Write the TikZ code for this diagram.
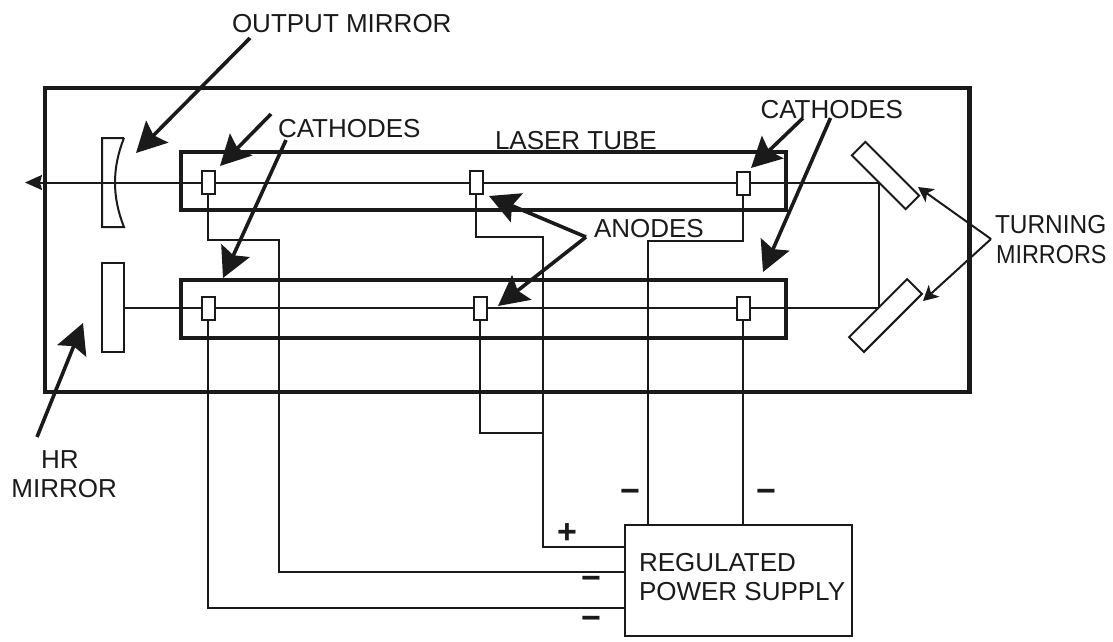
\documentclass[tikz,border=0pt]{standalone}
\usepackage{fontspec}
\setmainfont{Liberation Sans}
\usetikzlibrary{arrows.meta}
\definecolor{ink}{HTML}{1A1A1A}
\tikzset{
  x=1pt,y=-1pt,
  wire/.style={draw=ink,line width=2pt},
  heavybox/.style={draw=ink,line width=4.2pt,minimum width=#1,inner sep=0pt,outer sep=0pt},
  electrode/.style={draw=ink,fill=white,line width=2pt,minimum width=13pt,minimum height=23pt,inner sep=0pt,outer sep=0pt},
  mirrorbox/.style={draw=ink,fill=white,line width=2pt,inner sep=0pt,outer sep=0pt},
  bigarrow/.style={draw=ink,line width=3.6pt,-{Stealth[length=30pt,width=31pt,inset=5pt]}},
  smallarrow/.style={draw=ink,line width=2pt,-{Stealth[length=15pt,width=16pt,inset=4pt]}},
  lbl/.style={text=ink,anchor=base west,inner sep=0pt,outer sep=0pt,font=\fontsize{26}{30}\selectfont},
  sign/.style={text=ink,inner sep=0pt,font=\fontsize{34}{36}\selectfont\bfseries}
}
\begin{document}
\begin{tikzpicture}
\useasboundingbox (0,0) rectangle (1113,641);
% frames
\node[heavybox=924.5pt,minimum height=304pt] (outer) at (507.2,240) {};
\node[heavybox=605pt,minimum height=58pt] (tubeA) at (483.5,181) {};
\node[heavybox=605pt,minimum height=58pt] (tubeB) at (483.5,309) {};
\node[draw=ink,line width=2.2pt,minimum width=227pt,minimum height=111pt,inner sep=0pt,outer sep=0pt] (supply) at (738.5,580.5) {};
% beam ends and corners
\coordinate (tipL) at (25,182.5);
\coordinate (cornerA) at (879,182.5);
\coordinate (cornerB) at (879,307.5);
% HR mirror
\node[mirrorbox,minimum width=22pt,minimum height=89pt] (hr) at (113,307.5) {};
% beams
\draw[wire,-{Stealth[length=17pt,width=15pt,inset=2pt]}] (cornerA) -- (tipL);
\draw[wire] (hr.east |- cornerB) -- (cornerB) -- (cornerA);
% output mirror
\draw[wire] (124,138) -- (102,138) -- (102,227) -- (124,227) .. controls (112,197) and (112,168) .. (124,138);
% turning mirrors
\node[mirrorbox,minimum width=76pt,minimum height=19pt,rotate=-45] (turnA) at (885.5,175.5) {};
\node[mirrorbox,minimum width=82pt,minimum height=21pt,rotate=45] (turnB) at (885.5,315.5) {};
% electrodes
\node[electrode] (eA1) at (208,182.5) {};
\node[electrode] (eA2) at (476,182.5) {};
\node[electrode] (eA3) at (743,183) {};
\node[electrode] (eB1) at (208,308) {};
\node[electrode] (eB2) at (480,308) {};
\node[electrode] (eB3) at (743,308) {};
% wires
\draw[wire] (eA1.south) |- (279,240) |- (supply.west |- 0,572);
\draw[wire] (eA2.south) |- (543,237) |- (supply.west |- 0,547);
\draw[wire] (eA3.south) |- (648,241) -- (supply.north -| 648,0);
\draw[wire] (eB3.south) -- (supply.north -| eB3.south);
\draw[wire] (eB1.south) |- (supply.west |- 0,608);
\draw[wire] (eB2.south) |- (543,433);
% label anchors
\coordinate (apexAn) at (586,237);
\coordinate (apexTm) at (991,239);
% big arrows
\draw[bigarrow] (250,38) -- (136,153);
\draw[bigarrow] (271,114) -- (220,166);
\draw[bigarrow] (286,140) -- (223,278);
\draw[bigarrow] (803,118) -- (751,168);
\draw[bigarrow] (830.5,118) -- (763,272);
\draw[bigarrow] (37,437) -- (83,323);
\draw[bigarrow] (apexAn) -- (489,196);
\draw[bigarrow] (apexAn) -- (498,306);
\draw[smallarrow] (apexTm) -- (918,187);
\draw[smallarrow] (apexTm) -- (923,301);
% labels
\node[lbl] (lOut) at (232,32) {OUTPUT MIRROR};
\node[lbl] (lCatL) at (278,137) {CATHODES};
\node[lbl] (lTube) at (495,149) {LASER TUBE};
\node[lbl] (lCatR) at (760.5,118) {CATHODES};
\node[lbl] (lAn) at (594,237) {ANODES};
\node[lbl] (lTurn) at (995,233) {\scalebox{.94}[1]{TURNING}};
\node[lbl] (lMir) at (996,263) {\scalebox{.9}[1]{MIRRORS}};
\node[lbl] (lHr) at (41,468) {HR};
\node[lbl] (lHrm) at (11.5,497) {MIRROR};
\node[lbl] (lReg) at (639,571) {REGULATED};
\node[lbl] (lPow) at (639,600) {POWER SUPPLY};
% signs
\node[sign] (sA) at (630,496) {−};
\node[sign] (sB) at (766,496) {−};
\node[sign] (sC) at (591,583) {−};
\node[sign] (sD) at (591,623) {−};
\node[sign] (sE) at (567,534) {+};
\end{tikzpicture}
\end{document}
